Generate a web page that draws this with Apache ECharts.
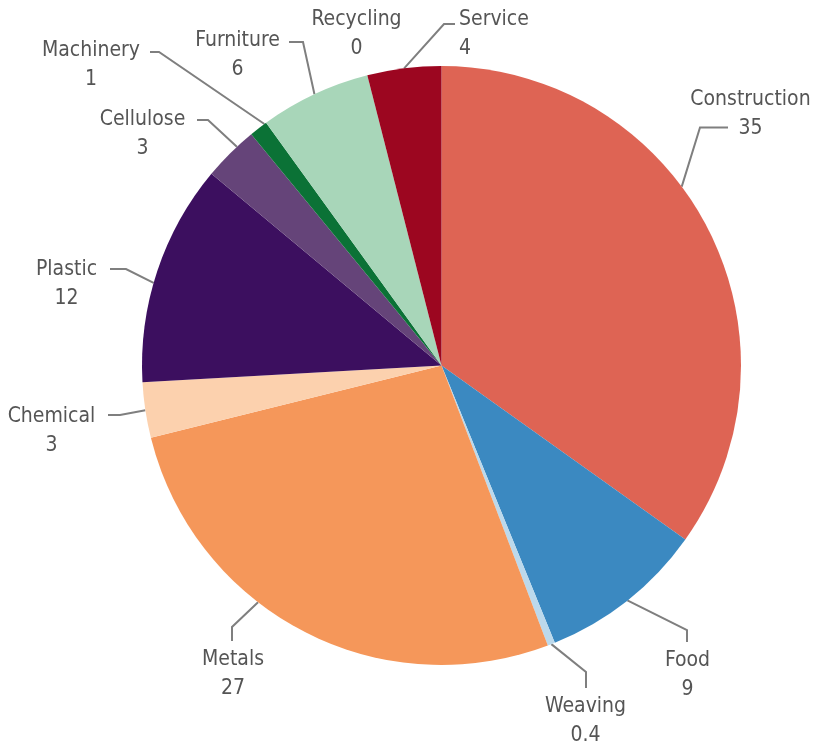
<!DOCTYPE html>
<html>
<head>
<meta charset="utf-8">
<script src="https://cdn.jsdelivr.net/npm/echarts@6/dist/echarts.min.js"></script>
<style>
  html, body { margin: 0; padding: 0; background: #fff; }
  #chart { width: 813px; height: 749px; }
</style>
</head>
<body>
<div id="chart"></div>
<script>
// Share of each sector
const sectors = ['Construction', 'Food', 'Weaving', 'Metals', 'Chemical', 'Plastic',
                 'Cellulose', 'Machinery', 'Furniture', 'Recycling', 'Service'];
const shares = [35, 9, 0.4, 27, 3, 12, 3, 1, 6, 0, 4];
const sliceColors = ['#de6454', '#3b89c1', '#bcd9ec', '#f5975a', '#fcd1ae', '#3c0f5f',
                     '#654479', '#0b7236', '#a8d6b9', '#cccccc', '#9c0620'];

// Pie geometry (pixels)
const CX = 441.5, CY = 365.5, R = 299.5;

// Where each label sits, and the elbow/end of its leader line.
// t = how far through the slice the leader meets the rim (0..1).
const labelPlacement = {
  Construction: { at: [750.5, 114.5], align: 'center', elbow: [700, 127.5], end: [728, 127.5], t: 0.425 },
  Food:         { at: [687.5, 675],  align: 'center', elbow: [687, 630],   end: [687, 642],   t: 0.5 },
  Weaving:      { at: [585.5, 721.5], align: 'center', elbow: [586, 672],  end: [586, 688],   t: 0.5 },
  Metals:       { at: [233, 674],    align: 'center', elbow: [232, 627],   end: [232, 641],   t: 0.605 },
  Chemical:     { at: [51.5, 431],   align: 'center', elbow: [120, 415],   end: [108, 415],   t: 0.5 },
  Plastic:      { at: [66.5, 284.5], align: 'center', elbow: [126, 269],   end: [110, 269],   t: 0.447 },
  Cellulose:    { at: [142.5, 134],  align: 'center', elbow: [208, 120],   end: [197, 120],   t: 0.66 },
  Machinery:    { at: [91, 65],      align: 'center', elbow: [159, 52],    end: [150, 52],    t: 0.89 },
  Furniture:    { at: [237.5, 55.5], align: 'center', elbow: [303, 42],    end: [289, 42],    t: 0.5 },
  Recycling:    { at: [356.5, 34],   align: 'center' },
  Service:      { at: [459, 34],     align: 'left',   elbow: [444, 24],    end: [455, 24],    t: 0.5 }
};

const total = shares.reduce((a, b) => a + b, 0);

// Point on the pie rim, a fraction t through slice i (clockwise from 12 o'clock)
function rimPoint(i, t) {
  let before = 0;
  for (let k = 0; k < i; k++) before += shares[k];
  const a = (before + t * shares[i]) / total * 2 * Math.PI;
  return [CX + R * Math.sin(a), CY - R * Math.cos(a)];
}

const chart = echarts.init(document.getElementById('chart'), null, { renderer: 'canvas' });

chart.setOption({
  animation: false,
  backgroundColor: '#ffffff',
  series: [{
    type: 'pie',
    center: [CX, CY],
    radius: R,
    startAngle: 90,
    clockwise: true,
    avoidLabelOverlap: false,
    emphasis: { disabled: true },
    itemStyle: { borderWidth: 0 },
    label: {
      show: true,
      position: 'outside',
      formatter: '{b}\n{c}',
      fontFamily: '"DejaVu Sans Condensed", "Liberation Sans Narrow", sans-serif',
      fontSize: 21,
      lineHeight: 29,
      color: '#555555',
      width: 220
    },
    labelLine: {
      show: true,
      smooth: false,
      lineStyle: { color: '#7f7f7f', width: 2 }
    },
    labelLayout: function (p) {
      const L = labelPlacement[sectors[p.dataIndex]];
      const out = { x: L.at[0], y: L.at[1], align: L.align, verticalAlign: 'middle' };
      if (L.elbow) out.labelLinePoints = [rimPoint(p.dataIndex, L.t), L.elbow, L.end];
      return out;
    },
    data: sectors.map((name, i) => ({
      name: name,
      value: shares[i],
      itemStyle: { color: sliceColors[i] },
      labelLine: { show: !!labelPlacement[name].elbow }
    }))
  }]
});
</script>
</body>
</html>
